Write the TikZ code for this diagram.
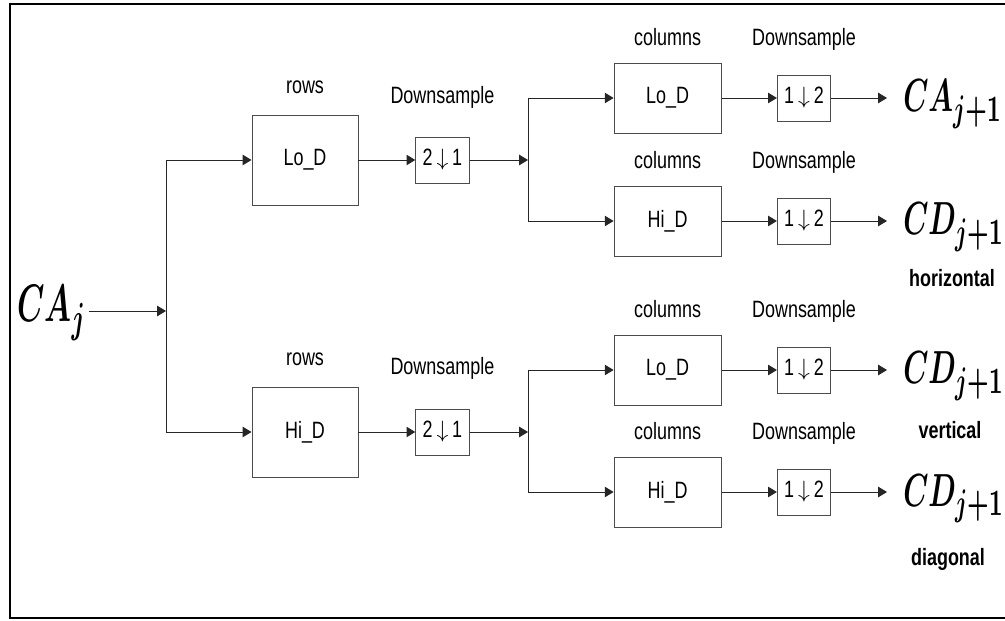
\RequirePackage{fix-cm}
\documentclass[tikz,border=0pt]{standalone}
\usepackage{fontspec}
\usetikzlibrary{arrows.meta, positioning}
\newfontfamily\narrowsans{Liberation Sans}[FakeStretch=0.76]
\newcommand{\lblfont}{\narrowsans\fontsize{16.8}{19}\selectfont}
\DeclareMathSizes{10}{10}{8}{6}
\tikzset{
  filt/.style={draw=black!70, line width=0.7pt, font=\lblfont, inner sep=0pt},
  rowfilt/.style={filt, minimum width=2.65cm, minimum height=2.25cm},
  colfilt/.style={filt, minimum width=2.675cm, minimum height=1.75cm},
  dsbox/.style={filt, minimum width=1.33cm, minimum height=1.15cm},
  lab/.style={font=\lblfont, inner sep=0pt},
  tag/.style={font=\lblfont\bfseries, inner sep=0pt},
  arr/.style={-{Triangle[length=2.2mm,width=2.6mm]}, line width=0.7pt, black!85},
  wire/.style={line width=0.7pt, black!85},
}
\newcommand{\coefs}[1]{\scalebox{2.02}[3.3]{\boldmath$#1$}}

\begin{document}
\begin{tikzpicture}[x=1cm, y=1cm,
  outlab/.style={inner xsep=0.4cm, inner ysep=0pt, anchor=base west}]
\useasboundingbox (0,0) rectangle (25.125,15.5);

% frame, open at the right
\draw[line width=0.9pt] (25.5,15.4) -- (0.25,15.4) -- (0.25,0.05) -- (25.5,0.05);

% input
\node[inner xsep=0.05cm, inner ysep=0pt, anchor=base west] (caj) at (0.375,7.45) {\scalebox{2.2}[3.75]{\boldmath$CA_j$}};
\coordinate (fork) at (4.15,7.725);
\draw[arr] (caj.east |- fork) -- (fork);

% ---------------- the rows ----------------
\node[rowfilt] (rowlo) at (7.625,11.5) {Lo\_D};
\node[rowfilt] (rowhi) at (7.625,4.7) {Hi\_D};
\node[lab, above=0.5cm of rowlo] (rowlolab) {rows};
\node[lab, above=0.5cm of rowhi] (rowhilab) {rows};
\draw[wire] (fork |- rowlo) -- (fork |- rowhi);
\draw[arr] (fork |- rowlo) -- (rowlo.west);
\draw[arr] (fork |- rowhi) -- (rowhi.west);

\node[dsbox] (dsa) at (11.06,11.5) {2\,$\downarrow$\,1};
\node[dsbox] (dsb) at (11.06,4.7) {2\,$\downarrow$\,1};
\node[lab, above=0.7cm of dsa] (dsalab) {Downsample};
\node[lab, above=0.72cm of dsb] (dsblab) {Downsample};
\draw[arr] (rowlo) -- (dsa);
\draw[arr] (rowhi) -- (dsb);

\coordinate (forka) at (13.2,11.5);
\coordinate (forkb) at (13.2,4.7);
\draw[arr] (dsa) -- (forka);
\draw[arr] (dsb) -- (forkb);

% ---------------- the columns ----------------
\node[colfilt] (colaa) at (16.69,13.05) {Lo\_D};
\node[colfilt] (colab) at (16.69,9.975) {Hi\_D};
\node[colfilt] (colba) at (16.69,6.25) {Lo\_D};
\node[colfilt] (colbb) at (16.69,3.2) {Hi\_D};
\foreach \c in {colaa,colab,colba,colbb} {
  \node[lab, above=0.42cm of \c] (\c lab) {columns};
}
\draw[wire] (forka |- colaa) -- (forka |- colab);
\draw[wire] (forkb |- colba) -- (forkb |- colbb);
\draw[arr] (forka |- colaa) -- (colaa.west);
\draw[arr] (forka |- colab) -- (colab.west);
\draw[arr] (forkb |- colba) -- (colba.west);
\draw[arr] (forkb |- colbb) -- (colbb.west);

\node[dsbox] (dsaa) at (20.1,13.05) {1\,$\downarrow$\,2};
\node[dsbox] (dsab) at (20.1,9.975) {1\,$\downarrow$\,2};
\node[dsbox] (dsba) at (20.1,6.25) {1\,$\downarrow$\,2};
\node[dsbox] (dsbb) at (20.1,3.2) {1\,$\downarrow$\,2};
\foreach \d/\c in {dsaa/colaa,dsab/colab,dsba/colba,dsbb/colbb} {
  \node[lab, above=0.6cm of \d] (\d lab) {Downsample};
  \draw[arr] (\c) -- (\d);
}

% ---------------- the outputs ----------------
\node[outlab] (outaa) at (22.175,12.7) {\coefs{CA_{j+1}}};
\node[outlab] (outab) at (22.175,9.625) {\coefs{CD_{j+1}}};
\node[outlab] (outba) at (22.175,5.9) {\coefs{CD_{j+1}}};
\node[outlab] (outbb) at (22.175,2.85) {\coefs{CD_{j+1}}};
\draw[arr] (dsaa) -- (dsaa -| outaa.west);
\draw[arr] (dsab) -- (dsab -| outab.west);
\draw[arr] (dsba) -- (dsba -| outba.west);
\draw[arr] (dsbb) -- (dsbb -| outbb.west);

\node[tag, anchor=base] (horiz) at (23.8,8.325) {horizontal};
\node[tag, anchor=base] (vert) at (23.75,4.55) {vertical};
\node[tag, anchor=base] (diag) at (23.7,1.375) {diagonal};
\end{tikzpicture}
\end{document}
